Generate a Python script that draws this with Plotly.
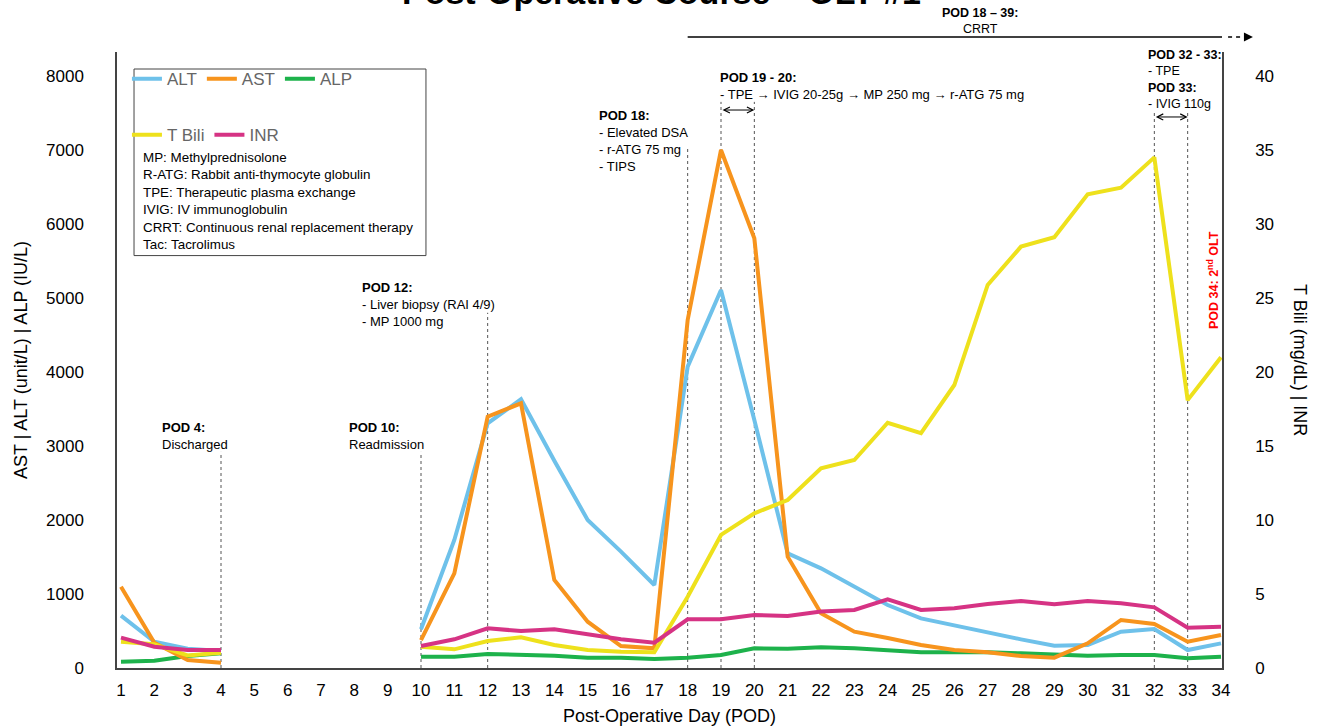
import plotly.graph_objects as go

days = list(range(1, 35))
N = None
alt = [707, 355, 260, 230, N, N, N, N, N, 523, 1730, 3307, 3631, 2800, 2000, 1572, 1122,
       4072, 5108, 3351, 1550, 1347, 1099, 851, 671, 572, 478, 387, 302, 311, 491, 527, 243, 333]
ast = [1099, 340, 108, 72, N, N, N, N, N, 378, 1279, 3396, 3577, 1189, 626, 297, 266,
       4703, 7000, 5807, 1504, 739, 491, 405, 311, 243, 212, 162, 140, 333, 649, 595, 356, 446]
alp = [85, 99, 162, 200, N, N, N, N, N, 153, 153, 189, 176, 167, 140, 140, 122,
       140, 176, 266, 261, 279, 266, 243, 212, 212, 212, 198, 176, 167, 176, 176, 131, 153]
tbili = [1.78, 1.6, 0.85, 1.03, N, N, N, N, N, 1.44, 1.26, 1.82, 2.07, 1.55, 1.22, 1.10, 1.06,
         4.82, 8.99, 10.45, 11.35, 13.49, 14.05, 16.57, 15.86, 19.12, 25.88, 28.47, 29.1, 32.0, 32.45, 34.5, 18.1, 21.0]
inr = [2.05, 1.44, 1.22, 1.22, N, N, N, N, N, 1.49, 1.94, 2.68, 2.50, 2.61, 2.30, 1.94, 1.71,
       3.29, 3.29, 3.58, 3.51, 3.81, 3.92, 4.64, 3.92, 4.03, 4.32, 4.53, 4.30, 4.53, 4.37, 4.10, 2.72, 2.79]

left_ticks = list(range(0, 8001, 1000))
right_ticks = list(range(0, 41, 5))

FONT = "Liberation Sans, Arial, sans-serif"

C_ALT = "#6EC1EA"
C_AST = "#F7941D"
C_ALP = "#1DB24B"
C_TB = "#EEE11C"
C_INR = "#D63384"
LW = 4

fig = go.Figure()
fig.add_trace(go.Scatter(x=days, y=alp, name="ALP", mode="lines", line=dict(color=C_ALP, width=LW), legend="legend", legendrank=3))
fig.add_trace(go.Scatter(x=days, y=tbili, name="T Bili", mode="lines", line=dict(color=C_TB, width=LW), yaxis="y2", legend="legend2", legendrank=1))
fig.add_trace(go.Scatter(x=days, y=alt, name="ALT", mode="lines", line=dict(color=C_ALT, width=LW), legend="legend", legendrank=1))
fig.add_trace(go.Scatter(x=days, y=ast, name="AST", mode="lines", line=dict(color=C_AST, width=LW), legend="legend", legendrank=2))
fig.add_trace(go.Scatter(x=days, y=inr, name="INR", mode="lines", line=dict(color=C_INR, width=LW), yaxis="y2", legend="legend2", legendrank=2))

shapes = []
# dotted event lines (day, top value on left axis)
for d, top in [(4, 2920), (10, 2920), (12, 4800), (18, 7030), (19, 7650), (20, 7650), (32, 7540), (33, 7540)]:
    shapes.append(dict(type="line", xref="x", yref="y", x0=d, x1=d, y0=0, y1=top,
                       line=dict(color="#555555", width=1, dash="dot"), layer="below"))
# legend box
shapes.append(dict(type="rect", xref="paper", yref="paper", x0=0.0154, x1=0.2796, y0=0.6695, y1=0.9724,
                   line=dict(color="#444444", width=1)))
# CRRT bar
shapes.append(dict(type="line", xref="x", yref="paper", x0=18, x1=34.03, y0=1.0245, y1=1.0245,
                   line=dict(color="black", width=1.5)))
shapes.append(dict(type="line", xref="paper", yref="paper", x0=1.0055, x1=1.020, y0=1.0245, y1=1.0245,
                   line=dict(color="black", width=1.5, dash="4px,4px")))

ann = []
def note(x, y, text, xref="paper", yref="paper", xanchor="left", size=13, family=FONT, color="black", **kw):
    ann.append(dict(x=x, y=y, xref=xref, yref=yref, text=text, showarrow=False, xanchor=xanchor,
                    yanchor="middle", align=xanchor if xanchor != "center" else "center",
                    font=dict(size=size, family=family, color=color), **kw))

note(0.4925, 1.0974, "<b>Post-Operative Course – OLT #1</b>", xanchor="center", size=34)
note(0.781, 1.050, "<b>POD 18 – 39:</b><br>CRRT", xanchor="center", size=12.5)
note(0.5439, 0.9448, "<b>POD 19 - 20:</b><br>- TPE → IVIG 20-25g → MP 250 mg → r-ATG 75 mg", size=13)
note(0.4344, 0.8563, "<b>POD 18:</b><br>- Elevated DSA<br>- r-ATG 75 mg<br>- TIPS", size=13)
note(0.2199, 0.5909, "<b>POD 12:</b><br>- Liver biopsy (RAI 4/9)<br>- MP 1000 mg", size=13)
note(0.2081, 0.3774, "<b>POD 10:</b><br>Readmission", size=13)
note(0.0389, 0.3766, "<b>POD 4:</b><br>Discharged", size=13)
note(0.9312, 0.9554, "<b>POD 32 - 33:</b><br>- TPE<br><b>POD 33:</b><br>- IVIG 110g", size=12.5)
note(0.0217, 0.7581, "MP: Methylprednisolone<br>R-ATG: Rabbit anti-thymocyte globulin<br>TPE: Therapeutic plasma exchange<br>"
     "IVIG: IV immunoglobulin<br>CRRT: Continuous renal replacement therapy<br>Tac: Tacrolimus", size=13.4)
ann.append(dict(x=0.9919, y=0.63, xref="paper", yref="paper", text="<b>POD 34: 2<sup>nd</sup> OLT</b>", showarrow=False,
                textangle=-90, xanchor="center", yanchor="middle", font=dict(size=12.5, family=FONT, color="#FF0000")))
ann.append(dict(x=1.0706, y=0.5, xref="paper", yref="paper", text="T Bili (mg/dL) | INR", showarrow=False,
                textangle=90, xanchor="center", yanchor="middle", font=dict(size=18, family=FONT, color="black")))
# double arrows
for xa, xb, yv in [(19, 20, 7540), (32, 33, 7446)]:
    ann.append(dict(x=xb, y=yv, ax=xa, ay=yv, xref="x", yref="y", axref="x", ayref="y", text="",
                    showarrow=True, arrowhead=5, startarrowhead=5, arrowside="end+start", arrowsize=1.2,
                    startarrowsize=1.2, arrowwidth=1, arrowcolor="black"))
# CRRT arrow head
ann.append(dict(x=1.028, y=1.0245, xref="paper", yref="paper", ax=-6, ay=0, text="", showarrow=True,
                arrowhead=2, arrowsize=1.2, arrowwidth=1.5, arrowcolor="black"))

fig.update_layout(
    width=1320, height=726,
    margin=dict(l=117, r=98, t=52, b=58),
    paper_bgcolor="white", plot_bgcolor="white",
    font=dict(family=FONT, color="black"),
    xaxis=dict(range=[0.88, 34.03], tickmode="array", tickvals=days, ticktext=[str(d) for d in days],
               showgrid=False, zeroline=False, showline=True, linecolor="#444444", linewidth=1.5,
               ticks="", tickfont=dict(size=17, color="black"), ticklabelstandoff=6, automargin=False,
               title=dict(text="Post-Operative Day (POD)", font=dict(size=18), standoff=12)),
    yaxis=dict(range=[0, 8324], tickmode="array", tickvals=left_ticks, showgrid=False, zeroline=False,
               showline=True, linecolor="#444444", linewidth=1.5, ticks="", tickfont=dict(size=17, color="black"),
               ticklabelstandoff=28, automargin=False,
               title=dict(text="AST | ALT (unit/L) | ALP (IU/L)", font=dict(size=18), standoff=14)),
    yaxis2=dict(range=[0, 41.62], overlaying="y", side="right", tickmode="array", tickvals=right_ticks,
                showgrid=False, zeroline=False, showline=True, linecolor="#444444", linewidth=1.5, ticks="",
                tickfont=dict(size=17, color="black"), ticklabelstandoff=28, automargin=False),
    legend=dict(x=0.009, y=0.985, xanchor="left", yanchor="top", orientation="h", bgcolor="rgba(0,0,0,0)",
                font=dict(size=17, color="#666666", family=FONT), itemwidth=30, traceorder="normal"),
    legend2=dict(x=0.009, y=0.894, xanchor="left", yanchor="top", orientation="h", bgcolor="rgba(0,0,0,0)",
                 font=dict(size=17, color="#666666", family=FONT), itemwidth=30, traceorder="normal"),
    shapes=shapes,
    annotations=ann,
)

fig.write_html("out.html", config={"displayModeBar": False},
               post_script="document.body.style.margin='0';document.body.style.overflow='hidden';")
